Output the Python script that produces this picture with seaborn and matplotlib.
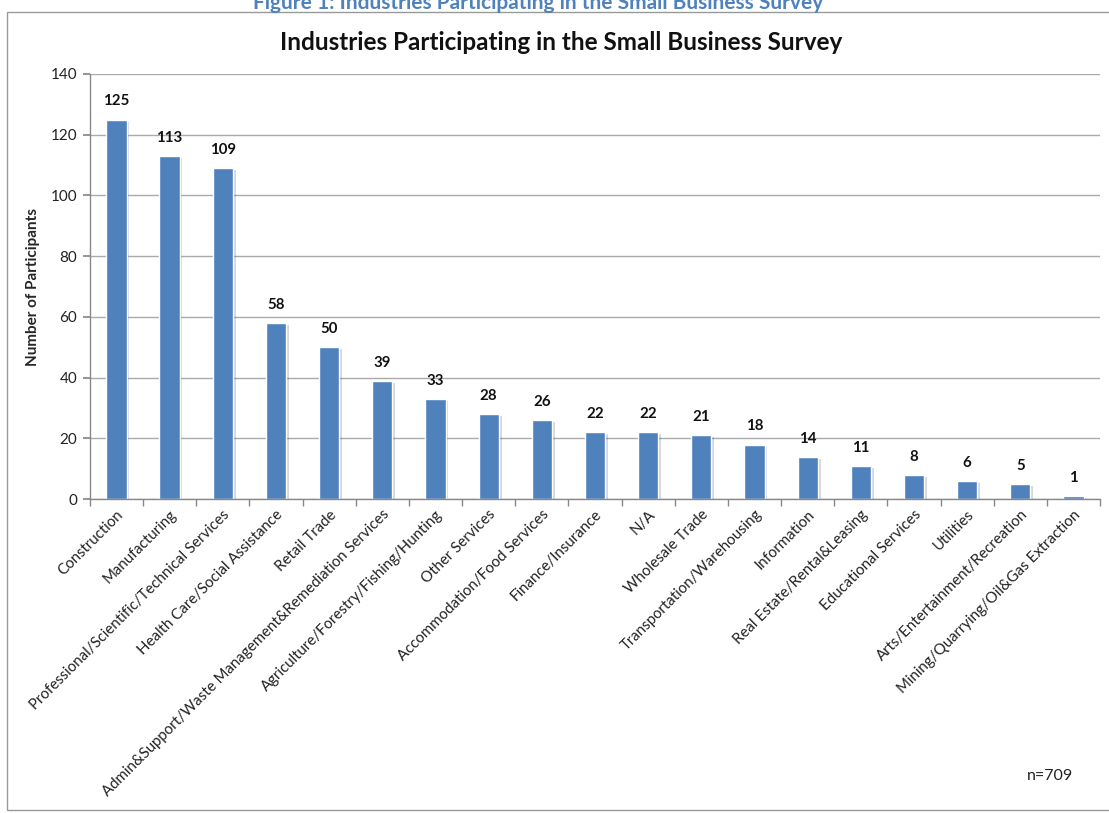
import matplotlib
matplotlib.use("Agg")
import matplotlib.pyplot as plt
import seaborn as sns
import pandas as pd
from matplotlib.patches import Rectangle
import matplotlib.patheffects as pe

categories = ["Construction", "Manufacturing", "Professional/Scientific/Technical Services",
              "Health Care/Social Assistance", "Retail Trade",
              "Admin&Support/Waste Management&Remediation Services",
              "Agriculture/Forestry/Fishing/Hunting", "Other Services",
              "Accommodation/Food Services", "Finance/Insurance", "N/A", "Wholesale Trade",
              "Transportation/Warehousing", "Information", "Real Estate/Rental&Leasing",
              "Educational Services", "Utilities", "Arts/Entertainment/Recreation",
              "Mining/Quarrying/Oil&Gas Extraction"]
values = [125, 113, 109, 58, 50, 39, 33, 28, 26, 22, 22, 21, 18, 14, 11, 8, 6, 5, 1]
y_ticks = [0, 20, 40, 60, 80, 100, 120, 140]

df = pd.DataFrame({"Industry": categories, "Participants": values})

sns.set_theme(style="white")
plt.rcParams['font.family'] = ['Lato', 'DejaVu Sans']

fig = plt.figure(figsize=(11.09, 8.13), dpi=100)
ax = fig.add_axes([0.081, 0.386, 0.911, 0.523])

sns.barplot(data=df, x="Industry", y="Participants", color="#4F81BD", width=0.38,
            ax=ax, saturation=1)
for p in ax.patches:
    p.set_path_effects([pe.SimplePatchShadow(offset=(2, -1.5), alpha=0.18), pe.Normal()])

ax.set_ylim(0, 140)
ax.set_yticks(y_ticks)
ax.set_yticklabels([str(t) for t in y_ticks], fontsize=11, color="#222222")
ax.set_xlim(-0.5, len(categories) - 0.5)
ax.set_xticks(range(len(categories)))
ax.set_xticklabels(categories, rotation=45, ha="right", rotation_mode="anchor", fontsize=10.8,
                   color="#222222")
ax.tick_params(axis="x", length=0, pad=6)
ax.tick_params(axis="y", length=5, color="#888888", direction="out", left=True, pad=4)
ax.set_xticks([i + 0.5 for i in range(-1, len(categories))], minor=True)
ax.tick_params(axis="x", which="minor", length=5, color="#888888", direction="out", bottom=True)

ax.yaxis.grid(True, color="#AAAAAA", linewidth=1)
ax.set_axisbelow(True)
for s in ["top", "right"]:
    ax.spines[s].set_visible(False)
for s in ["left", "bottom"]:
    ax.spines[s].set_color("#888888")
    ax.spines[s].set_linewidth(1)

ax.set_xlabel("")
ax.set_ylabel("Number of Participants", fontsize=11, fontweight="bold", labelpad=8)

for i, v in enumerate(values):
    ax.annotate(str(v), (i, v), xytext=(0, 8), textcoords="offset points",
                ha="center", va="bottom", fontsize=10.8, fontweight="bold", color="#111111")

fig.text(0.506, 0.948, "Industries Participating in the Small Business Survey",
         ha="center", va="center", fontsize=17.5, fontweight="bold", color="#111111")
fig.text(0.947, 0.045, "n=709", ha="center", va="center", fontsize=11.5, color="#222222")
fig.text(0.485, 0.996, "Figure 1: Industries Participating in the Small Business Survey",
         ha="center", va="center", fontsize=15, fontweight="bold", color="#4F81BD")

fig.patches.append(Rectangle((0.006, 0.004), 0.999, 0.981, transform=fig.transFigure,
                             fill=False, edgecolor="#999999", linewidth=1))

fig.savefig("out.png", dpi=100, facecolor="white")
